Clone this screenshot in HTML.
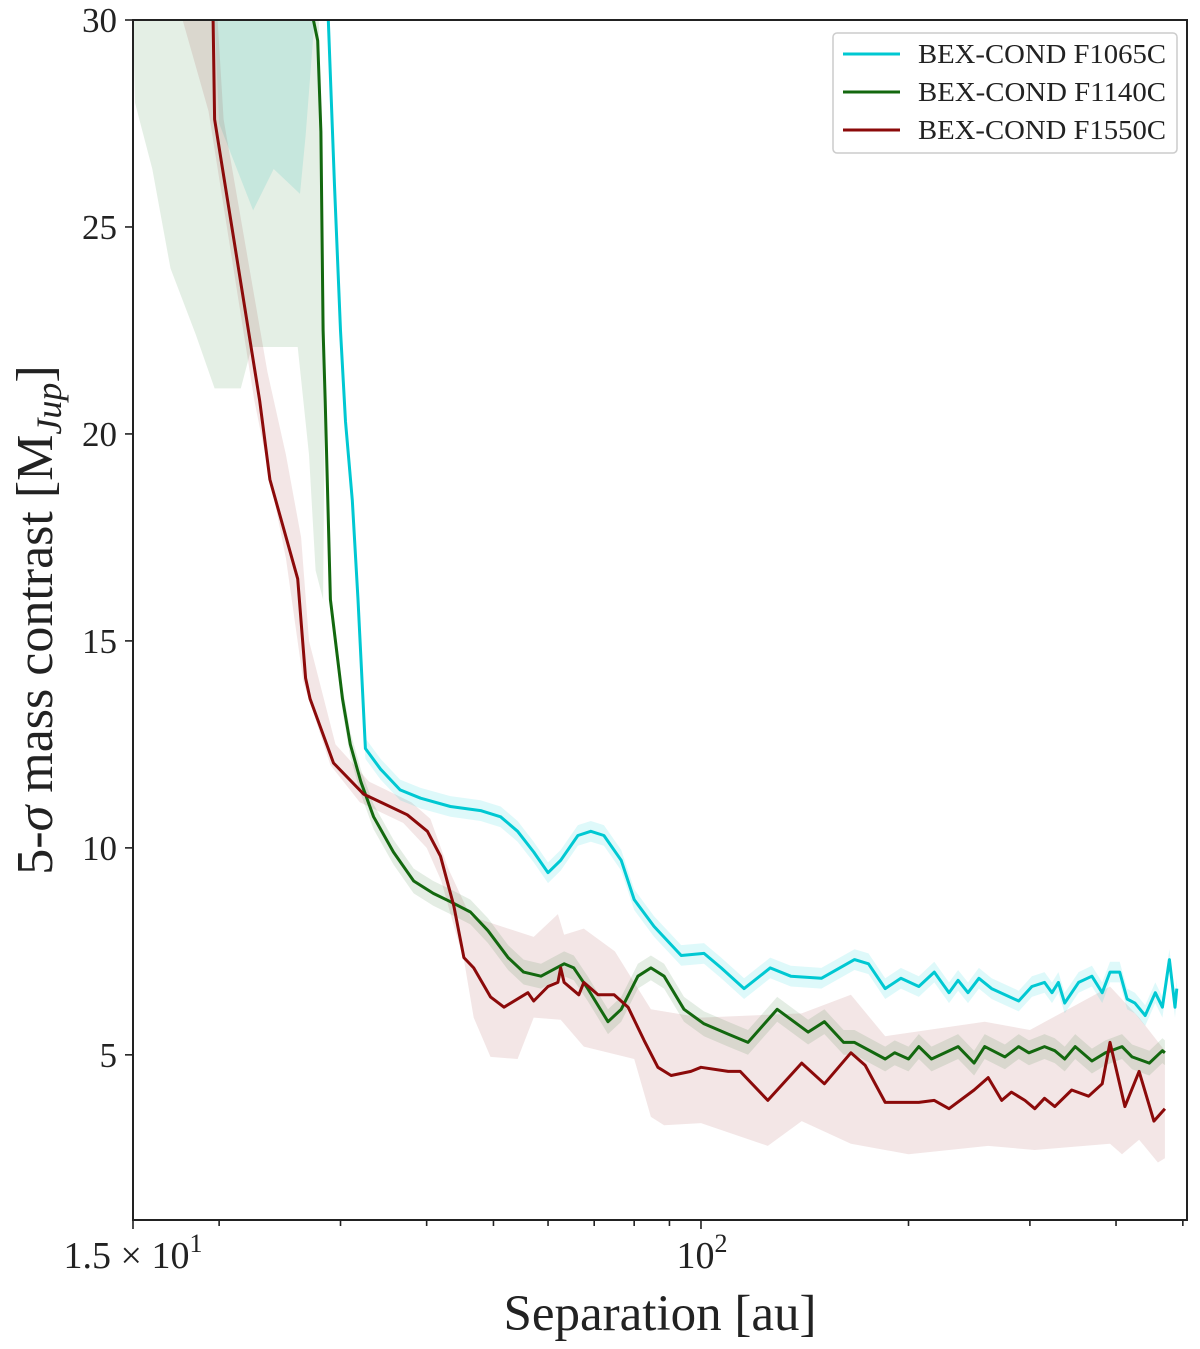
<!DOCTYPE html>
<html><head><meta charset="utf-8"><style>
html,body{margin:0;padding:0;background:#fff;}
svg{display:block;font-family:"Liberation Serif",serif;}
</style></head><body>
<svg id="chart" width="1200" height="1349" viewBox="0 0 1200 1349" xmlns="http://www.w3.org/2000/svg">
<g id="bands"></g>
<g id="lines"></g>
<g id="axes"></g>
<g id="legend">
<rect x="833" y="33" width="344" height="120" rx="4" fill="#fff" fill-opacity="0.85" stroke="#ccc" stroke-width="1.5"/>
<g><line x1="843" y1="54" x2="900" y2="54" stroke="#00c8d2" stroke-width="3"/><text x="918" y="63" font-size="27" textLength="248" lengthAdjust="spacingAndGlyphs" fill="#222">BEX-COND F1065C</text></g>
<g><line x1="843" y1="92" x2="900" y2="92" stroke="#13680f" stroke-width="3"/><text x="918" y="101" font-size="27" textLength="248" lengthAdjust="spacingAndGlyphs" fill="#222">BEX-COND F1140C</text></g>
<g><line x1="843" y1="130" x2="900" y2="130" stroke="#8b0a0a" stroke-width="3"/><text x="918" y="139" font-size="27" textLength="248" lengthAdjust="spacingAndGlyphs" fill="#222">BEX-COND F1550C</text></g>
</g>
</svg>
<script>
// ---- data (separation in au, mass in MJup) ----
const cyanSep=[28.8,29.4,30.0,30.5,31.2,31.8,32.6,34.3,36.6,39.2,43.3,47.9,51.2,54.2,57.2,60.0,62.6,66.3,69.2,72.3,76.6,80.0,85.5,93.6,101,107,115.5,126,135,149.5,167,175,185,195,207,218,229,236,244,253,264,289,302,315,323,330,337,353,369,382,392,405,415,426,441,456,467,478,487,490];
const cyanMass=[30,26,22.5,20.3,18.4,16,12.4,11.9,11.4,11.2,11.0,10.9,10.75,10.4,9.9,9.4,9.7,10.3,10.4,10.3,9.7,8.75,8.1,7.4,7.45,7.1,6.6,7.1,6.9,6.85,7.3,7.2,6.6,6.85,6.65,7.0,6.5,6.8,6.5,6.85,6.6,6.3,6.65,6.75,6.5,6.75,6.25,6.75,6.9,6.5,7.0,7.0,6.35,6.25,5.95,6.5,6.15,7.3,6.15,6.6];
const greenSep=[27.4,27.8,28.1,28.3,28.5,29.0,30.2,31.0,32.1,33.5,35.8,38.3,40.9,43.3,46.3,49.1,52.5,55.3,58.6,63.3,65.4,68.5,73.3,76.6,81.0,84.6,88.4,94.5,101,109.5,117,129,143,151,161,167,185,191,200,207,216,236,249,258,276,289,299,315,326,337,349,369,386,408,422,447,467,471];
const greenMass=[30,29.5,27.3,22.5,20.8,16.0,13.6,12.5,11.6,10.75,9.9,9.2,8.9,8.7,8.45,8.0,7.35,7.0,6.9,7.2,7.1,6.6,5.8,6.1,6.9,7.1,6.9,6.1,5.75,5.5,5.3,6.1,5.55,5.8,5.3,5.3,4.9,5.05,4.9,5.2,4.9,5.2,4.8,5.2,4.95,5.2,5.05,5.2,5.1,4.9,5.2,4.85,5.05,5.2,4.95,4.8,5.1,5.05];
const redSep=[19.6,19.7,22.9,23.7,26.0,26.7,27.1,29.3,32.4,37.5,40.1,41.9,43.8,45.3,46.8,49.5,51.8,56.1,57.2,60.0,62.0,62.6,63.3,66.5,67.6,70.9,74.8,78.4,82.7,86.6,90.5,96.7,100,109.5,114,125,140,151,165,173,185,207,218,229,249,261,273,282,295,305,315,326,345,365,382,392,412,432,454,471];
const redMass=[30,27.6,20.8,18.9,16.5,14.1,13.6,12.05,11.3,10.8,10.4,9.8,8.6,7.35,7.1,6.4,6.15,6.5,6.3,6.65,6.75,7.1,6.75,6.45,6.75,6.45,6.45,6.15,5.35,4.7,4.5,4.6,4.7,4.6,4.6,3.9,4.8,4.3,5.05,4.75,3.85,3.85,3.9,3.7,4.15,4.45,3.9,4.1,3.9,3.7,3.95,3.75,4.15,4.0,4.3,5.3,3.75,4.6,3.4,3.7];
const redLoSep=[17.7,19.3,22.5,25,26.5,29,32,37,40,42,44,45.3,46.8,49.5,54.2,57.2,62.6,67.6,80,84.6,88.4,100,125,140,165,200,261,305,392,408,432,460,471];
const redLoMass=[30,27.8,20.8,17,14,12,11.1,10.6,10.0,9.2,8.0,7.3,5.9,4.95,4.9,5.9,5.85,5.2,4.9,3.5,3.3,3.35,2.8,3.4,2.85,2.6,2.8,2.7,2.85,2.6,2.95,2.4,2.5];
const redHiSep=[19.9,20.3,23.5,25,26.3,27,29.5,33,38,40.5,43,46.3,57.2,62,63.3,67.6,75,84.6,100,140,165,185,258,300,392,432,471];
const redHiMass=[30,27.6,21.5,19.5,17.5,15,12.5,11.6,11.1,10.7,9.5,8.35,7.85,8.4,7.9,8.05,7.5,6.1,5.9,6.0,6.45,5.45,5.8,5.6,6.65,5.9,5.1];
const greenPatchSep=[15,15.1,16,17,18.5,19.7,21.5,22.3,26,27,27.6,28.3,28.5,27.9];
const greenPatchMass=[30,28,26.4,24,22.4,21.1,21.1,22.1,22.1,19.5,16.7,16,22,30];
const cyanPatchSep=[19.7,20,22.4,24,26.2,26.7,27.5];
const cyanPatchMass=[30,27.5,25.4,26.4,25.8,27.2,30];
const xTicks=[15,20,30,40,50,60,70,80,90,100,200,300,400,500];
const yTicks=[5,10,15,20,25,30];

// ---- scales ----
const X0=133,X1=1187,Y0=1220,Y1=20,xmin=15,xmax=507,ymin=1.01,ymax=30;
const sx=v=>X0+(Math.log10(v)-Math.log10(xmin))/(Math.log10(xmax)-Math.log10(xmin))*(X1-X0);
const sy=v=>Y0-(v-ymin)/(ymax-ymin)*(Y0-Y1);
const NS='http://www.w3.org/2000/svg';
function mk(tag,parent){const e=document.createElementNS(NS,tag);parent.appendChild(e);return e;}
const clip=mk('clipPath',document.getElementById('chart'));clip.setAttribute('id','pc');
const cr=mk('rect',clip);cr.setAttribute('x',X0);cr.setAttribute('y',Y1);cr.setAttribute('width',X1-X0);cr.setAttribute('height',Y0-Y1);
const bands=document.getElementById('bands');bands.setAttribute('clip-path','url(#pc)');
const lines=document.getElementById('lines');lines.setAttribute('clip-path','url(#pc)');
function poly(xs,ys){return xs.map((v,i)=>sx(v).toFixed(1)+','+sy(ys[i]).toFixed(1)).join(' ');}
function bandPoly(xs,ys,w){const up=xs.map((v,i)=>sx(v).toFixed(1)+','+sy(Math.min(30.5,ys[i]+w)).toFixed(1));const lo=xs.map((v,i)=>sx(v).toFixed(1)+','+sy(ys[i]-w).toFixed(1)).reverse();return up.concat(lo).join(' ');}

let p=mk('polygon',bands);p.setAttribute('points',poly(greenPatchSep,greenPatchMass));p.setAttribute('fill','rgba(30,120,40,0.12)');


p=mk('polygon',bands);p.setAttribute('points',poly(cyanPatchSep,cyanPatchMass));p.setAttribute('fill','rgba(0,180,170,0.13)');


p=mk('polygon',bands);p.setAttribute('points',poly(redHiSep,redHiMass)+' '+poly(redLoSep.slice().reverse(),redLoMass.slice().reverse()));p.setAttribute('fill','rgba(139,10,10,0.1)');


p=mk('polygon',bands);p.setAttribute('points',bandPoly(greenSep.slice(5),greenMass.slice(5),0.3));p.setAttribute('fill','rgba(30,110,30,0.12)');


p=mk('polygon',bands);p.setAttribute('points',bandPoly(cyanSep,cyanMass,0.25));p.setAttribute('fill','rgba(0,210,220,0.13)');



function line(xs,ys,col,name){const l=mk('polyline',lines);l.setAttribute('points',poly(xs,ys));l.setAttribute('fill','none');l.setAttribute('stroke',col);l.setAttribute('stroke-width','3');l.setAttribute('stroke-linejoin','round');

}
line(greenSep,greenMass,'#13680f','line-f1140c');
line(redSep,redMass,'#8b0a0a','line-f1550c');
line(cyanSep,cyanMass,'#00c8d2','line-f1065c');

// ---- axes ----
const ax=document.getElementById('axes');
const fr=mk('rect',ax);fr.setAttribute('x',X0);fr.setAttribute('y',Y1);fr.setAttribute('width',X1-X0);fr.setAttribute('height',Y0-Y1);fr.setAttribute('fill','none');fr.setAttribute('stroke','#222');fr.setAttribute('stroke-width','2');


xTicks.forEach(t=>{const tk=mk('line',ax);tk.setAttribute('x1',sx(t));tk.setAttribute('x2',sx(t));tk.setAttribute('y1',Y0);tk.setAttribute('y2',Y0+(t===100||t===15?9:6));tk.setAttribute('stroke','#222');tk.setAttribute('stroke-width','1.6');

});
yTicks.forEach(t=>{const tk=mk('line',ax);tk.setAttribute('x1',X0-8);tk.setAttribute('x2',X0);tk.setAttribute('y1',sy(t));tk.setAttribute('y2',sy(t));tk.setAttribute('stroke','#222');tk.setAttribute('stroke-width','1.6');


const tx=mk('text',ax);tx.setAttribute('x',X0-16);tx.setAttribute('y',sy(t)+12);tx.setAttribute('text-anchor','end');tx.setAttribute('font-size','35');tx.setAttribute('fill','#222');tx.textContent=t;

});
</script>
<svg style="position:absolute;left:0;top:0" width="1200" height="1349" font-family="Liberation Serif, serif">
<text x="133" y="1268" text-anchor="middle" font-size="38" fill="#222">1.5 × 10<tspan dy="-16" font-size="26">1</tspan></text>
<text x="702" y="1268" text-anchor="middle" font-size="38" fill="#222">10<tspan dy="-16" font-size="26">2</tspan></text>
<text x="660" y="1330" text-anchor="middle" font-size="51" fill="#222">Separation [au]</text>
<text transform="translate(52,620) rotate(-90)" text-anchor="middle" font-size="52" fill="#222">5-<tspan font-style="italic">σ</tspan> mass contrast [M<tspan dy="9" font-size="36" font-style="italic">Jup</tspan><tspan dy="-9">]</tspan></text>
</svg>
</body></html>
